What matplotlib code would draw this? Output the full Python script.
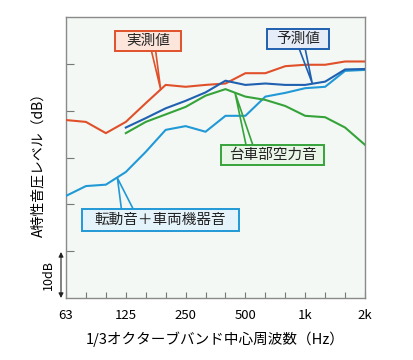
import matplotlib
matplotlib.use('Agg')
import matplotlib.pyplot as plt
from matplotlib.patches import Rectangle

plt.rcParams['font.family'] = ['Noto Sans CJK JP', 'DejaVu Sans']

# 1/3オクターブバンド (index 0 = 63Hz ... 15 = 2kHz)
bands = ['63', '80', '100', '125', '160', '200', '250', '315', '400', '500',
         '630', '800', '1k', '1.25k', '1.6k', '2k']
label_idx = [0, 3, 6, 9, 12, 15]

# 実測値 (相対dB)
measured = [38.0, 37.6, 35.2, 37.6, 41.6, 45.5, 45.1, 45.5, 45.8, 48.0,
            48.0, 49.5, 49.8, 49.8, 50.5, 50.5]
# 予測値 (125Hz~)
predicted = [36.4, 38.4, 40.5, 42.1, 43.9, 46.4, 45.5, 45.8, 45.5, 45.5,
             46.2, 48.8, 48.9]
# 台車部空力音 (125Hz~)
bogie = [35.2, 37.6, 39.2, 40.8, 43.2, 44.6, 43.0, 42.3, 41.0, 38.9,
         38.6, 36.4, 32.7]
# 転動音+車両機器音
rolling = [21.8, 23.9, 24.2, 26.9, 31.2, 35.9, 36.7, 35.5, 38.9, 38.9,
           43.0, 43.8, 44.8, 45.1, 48.5, 48.7]

c_red = '#e0502a'
c_dblue = '#2060b0'
c_green = '#36a33a'
c_lblue = '#2199d6'

fig = plt.figure(figsize=(4.13, 3.6), dpi=100)
ax = fig.add_axes([66 / 413, 62 / 360, 299 / 413, 281 / 360])
ax.set_facecolor('#f3f8f4')

x_all = list(range(len(bands)))
x_sub = x_all[3:]
ax.plot(x_all, rolling, color=c_lblue, lw=1.5, zorder=3)
ax.plot(x_sub, bogie, color=c_green, lw=1.5, zorder=3)
ax.plot(x_all, measured, color=c_red, lw=1.5, zorder=3)
ax.plot(x_sub, predicted, color=c_dblue, lw=1.5, zorder=4)

ax.set_xlim(0, 15)
ax.set_ylim(0, 60)
ax.set_xticks(label_idx)
ax.set_xticklabels([bands[i] for i in label_idx], fontsize=9.5)
ax.set_xticks(x_all, minor=True)
ax.set_yticks([10, 20, 30, 40, 50])
ax.set_yticklabels([])
ax.tick_params(axis='x', direction='in', length=4, width=0.8, color='#777777', pad=8)
ax.tick_params(axis='x', which='minor', direction='in', length=4, width=0.8, color='#777777')
ax.tick_params(axis='y', direction='in', length=6, width=0.8, color='#777777')
for s in ax.spines.values():
    s.set_color('#8a8a8a')
    s.set_linewidth(1.0)

ax.set_xlabel('1/3オクターブバンド中心周波数（Hz）', fontsize=10.5, labelpad=7)
fig.text(38 / 413, 1 - 161 / 360, 'A特性音圧レベル（dB）', rotation=90,
         ha='center', va='center', fontsize=10)

# 10dB スケール
fig.text(48 / 413, 1 - 275 / 360, '10dB', rotation=90, ha='center', va='center', fontsize=9)
ax.annotate('', xy=(61 / 413, 1 - 298 / 360), xytext=(61 / 413, 1 - 252 / 360),
            xycoords='figure fraction', textcoords='figure fraction',
            arrowprops=dict(arrowstyle='<|-|>', color='#222222', lw=0.8,
                            mutation_scale=7, shrinkA=0, shrinkB=0))

# ラベル枠と引出線
labels = [
    ('実測値', c_red, '#fce6dc', (2.45, 52.7, 3.3, 4.3), [(4.29, 52.7), (4.75, 44.5), (4.5, 52.7)]),
    ('予測値', c_dblue, '#e6edf8', (10.1, 53.2, 3.1, 4.2), [(11.7, 53.2), (12.35, 45.9), (12.0, 53.2)]),
    ('台車部空力音', c_green, '#e9f5e6', (7.8, 28.4, 5.15, 4.3), [(9.03, 32.7), (8.48, 43.8), (9.37, 32.7)]),
    ('転動音＋車両機器音', c_lblue, '#e5f4fb', (0.8, 14.3, 7.9, 4.7), [(2.78, 19.0), (2.58, 25.6), (3.37, 19.0)]),
]
for text, col, face, (bx, by, bw, bh), leader in labels:
    lx = [p[0] for p in leader]
    ly = [p[1] for p in leader]
    ax.plot(lx, ly, color=col, lw=1.2, zorder=5, clip_on=False)
    ax.add_patch(Rectangle((bx, by), bw, bh, facecolor=face, edgecolor=col,
                           lw=1.4, zorder=6, clip_on=False))
    ax.text(bx + bw / 2, by + bh / 2, text, ha='center', va='center',
            fontsize=10.5, color='#222222', zorder=7)

fig.savefig('out.png', dpi=100)
